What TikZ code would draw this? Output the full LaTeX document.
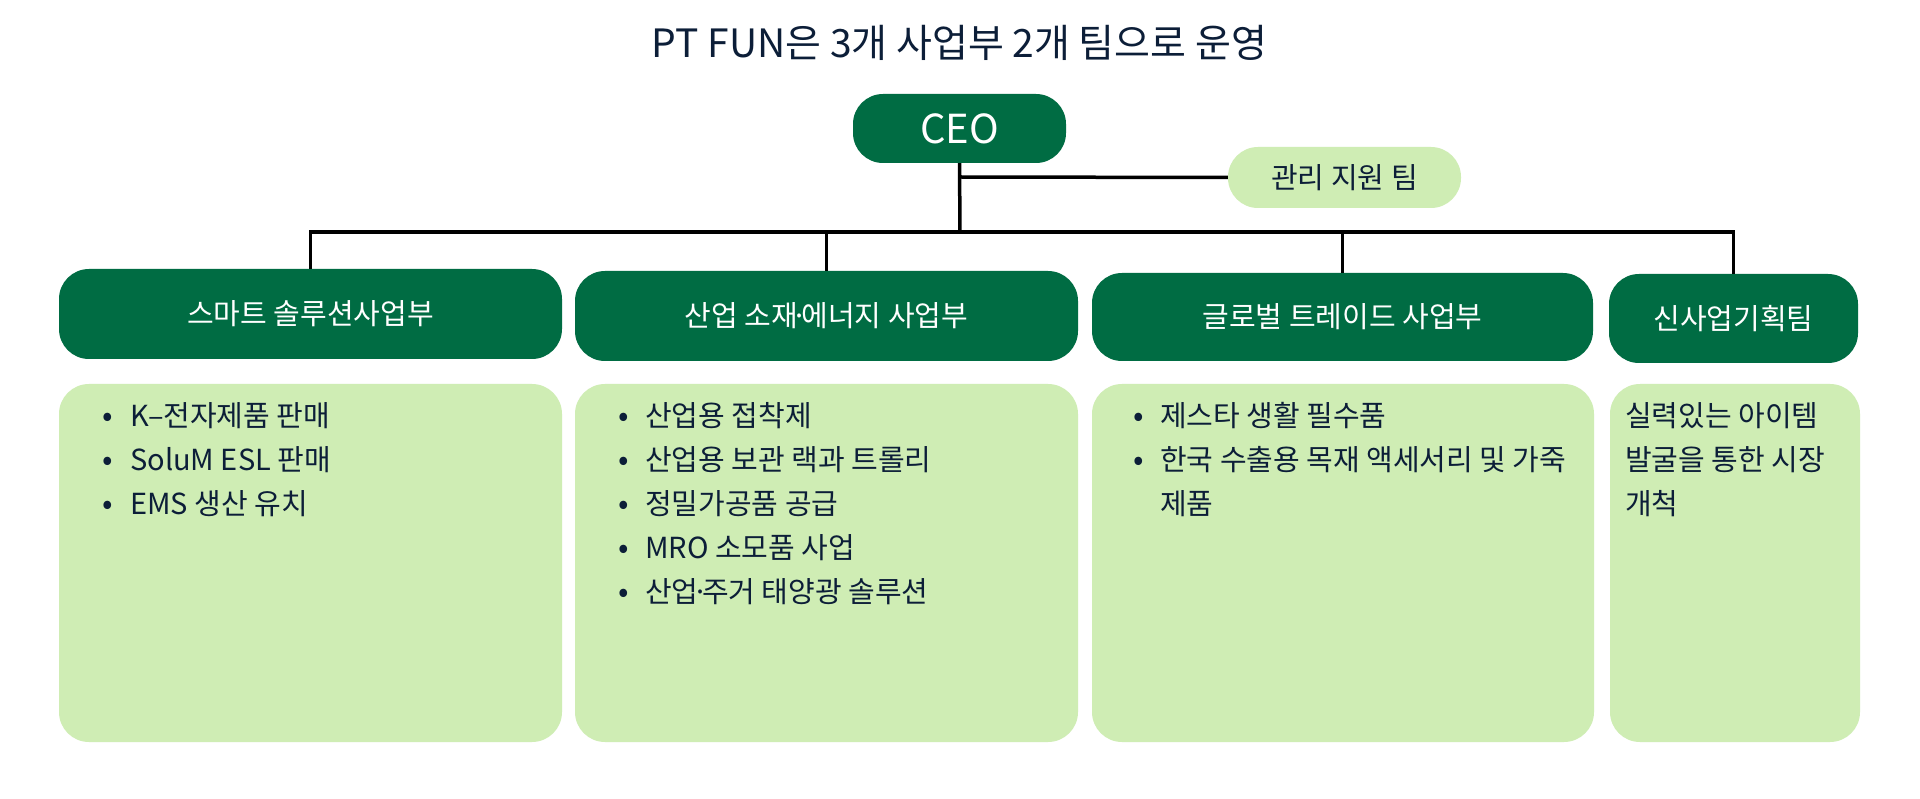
\documentclass[tikz,border=0pt]{standalone}
\usepackage{fontspec}
\setmainfont{Noto Sans CJK KR}
\definecolor{dkgreen}{RGB}{0,108,67}
\definecolor{ltgreen}{RGB}{207,237,180}
\definecolor{navy}{RGB}{12,30,56}
\newcommand{\mdot}{\kern-0.22em·\kern-0.22em}
\begin{document}
\begin{tikzpicture}[x=1pt,y=-1pt,
  darkbox/.style={fill=dkgreen, draw=none, rounded corners=30pt, inner sep=0pt, text=white, font=\fontsize{29}{34}\selectfont},
  lightbox/.style={fill=ltgreen, draw=none, rounded corners=30pt, inner sep=0pt},
  conn/.style={draw=black, line width=3.5pt},
  itemtext/.style={anchor=base west, inner sep=0pt, text=navy, font=\fontsize{29}{34}\selectfont},
  bul/.style={anchor=base, inner sep=0pt, text=navy, font=\fontsize{31}{34}\selectfont}
]
\useasboundingbox (0,0) rectangle (1920,799);
\fill[white] (0,0) rectangle (1920,799);

% title
\node[anchor=base, inner sep=0pt, text=navy, font=\fontsize{39}{46}\selectfont] (title) at (959.5,58) {PT FUN은 3개 사업부 2개 팀으로 운영};

% top nodes
\node[darkbox, minimum width=213pt, minimum height=69pt, font=\fontsize{40}{46}\selectfont] (ceo) at (959.5,128.5) {CEO};
\node[lightbox, minimum width=233pt, minimum height=61pt, text=navy, font=\fontsize{29}{34}\selectfont] (mgmt) at (1344.5,177.5) {관리 지원 팀};

% headers
\node[darkbox, minimum width=503pt, minimum height=90pt] (h1) at (310.5,314) {스마트 솔루션사업부};
\node[darkbox, minimum width=503pt, minimum height=90pt] (h2) at (826.5,316) {산업 소재\mdot 에너지 사업부};
\node[darkbox, minimum width=501pt, minimum height=88pt] (h3) at (1342.5,317) {글로벌 트레이드 사업부};
\node[darkbox, minimum width=249pt, minimum height=89pt] (h4) at (1733.5,318.5) {신사업기획팀};

% content boxes
\node[lightbox, minimum width=503pt, minimum height=358pt] (c1) at (310.5,563) {};
\node[lightbox, minimum width=503pt, minimum height=358pt] (c2) at (826.5,563) {};
\node[lightbox, minimum width=502pt, minimum height=358pt] (c3) at (1343,563) {};
\node[lightbox, minimum width=250pt, minimum height=358pt] (c4) at (1735,563) {};

% connectors
\coordinate (bus) at (960,232);
\coordinate (j1) at (960,177);
\draw[conn] (ceo.south) -- (bus);
\draw[conn] (j1) -- (mgmt.west);
\draw[conn, line cap=rect] (h1.north |- bus) -- (h4.north |- bus);
\draw[conn] (h1.north |- bus) -- (h1.north);
\draw[conn] (h2.north |- bus) -- (h2.north);
\draw[conn] (h3.north |- bus) -- (h3.north);
\draw[conn] (h4.north |- bus) -- (h4.north);

% box 1
\node[bul] (d11) at (108,427) {•};
\node[itemtext] (t11) at (130,427) {K–전자제품 판매};
\node[bul] (d12) at (108,470) {•};
\node[itemtext] (t12) at (130,470) {SoluM ESL 판매};
\node[bul] (d13) at (108,514) {•};
\node[itemtext] (t13) at (130,514) {EMS 생산 유치};

% box 2
\node[bul] (d21) at (624,427) {•};
\node[itemtext] (t21) at (645,427) {산업용 접착제};
\node[bul] (d22) at (624,470) {•};
\node[itemtext] (t22) at (645,470) {산업용 보관 랙과 트롤리};
\node[bul] (d23) at (624,514) {•};
\node[itemtext] (t23) at (645,514) {정밀가공품 공급};
\node[bul] (d24) at (624,558) {•};
\node[itemtext] (t24) at (645,558) {MRO 소모품 사업};
\node[bul] (d25) at (624,602) {•};
\node[itemtext] (t25) at (645,602) {산업\mdot 주거 태양광 솔루션};

% box 3
\node[bul] (d31) at (1139,427) {•};
\node[itemtext] (t31) at (1160,427) {제스타 생활 필수품};
\node[bul] (d32) at (1139,470) {•};
\node[itemtext] (t32) at (1160,470) {한국 수출용 목재 액세서리 및 가죽};
\node[itemtext] (t33) at (1160,514) {제품};

% box 4
\node[itemtext] (t41) at (1625,427) {실력있는 아이템};
\node[itemtext] (t42) at (1625,470) {발굴을 통한 시장};
\node[itemtext] (t43) at (1625,514) {개척};
\end{tikzpicture}
\end{document}
